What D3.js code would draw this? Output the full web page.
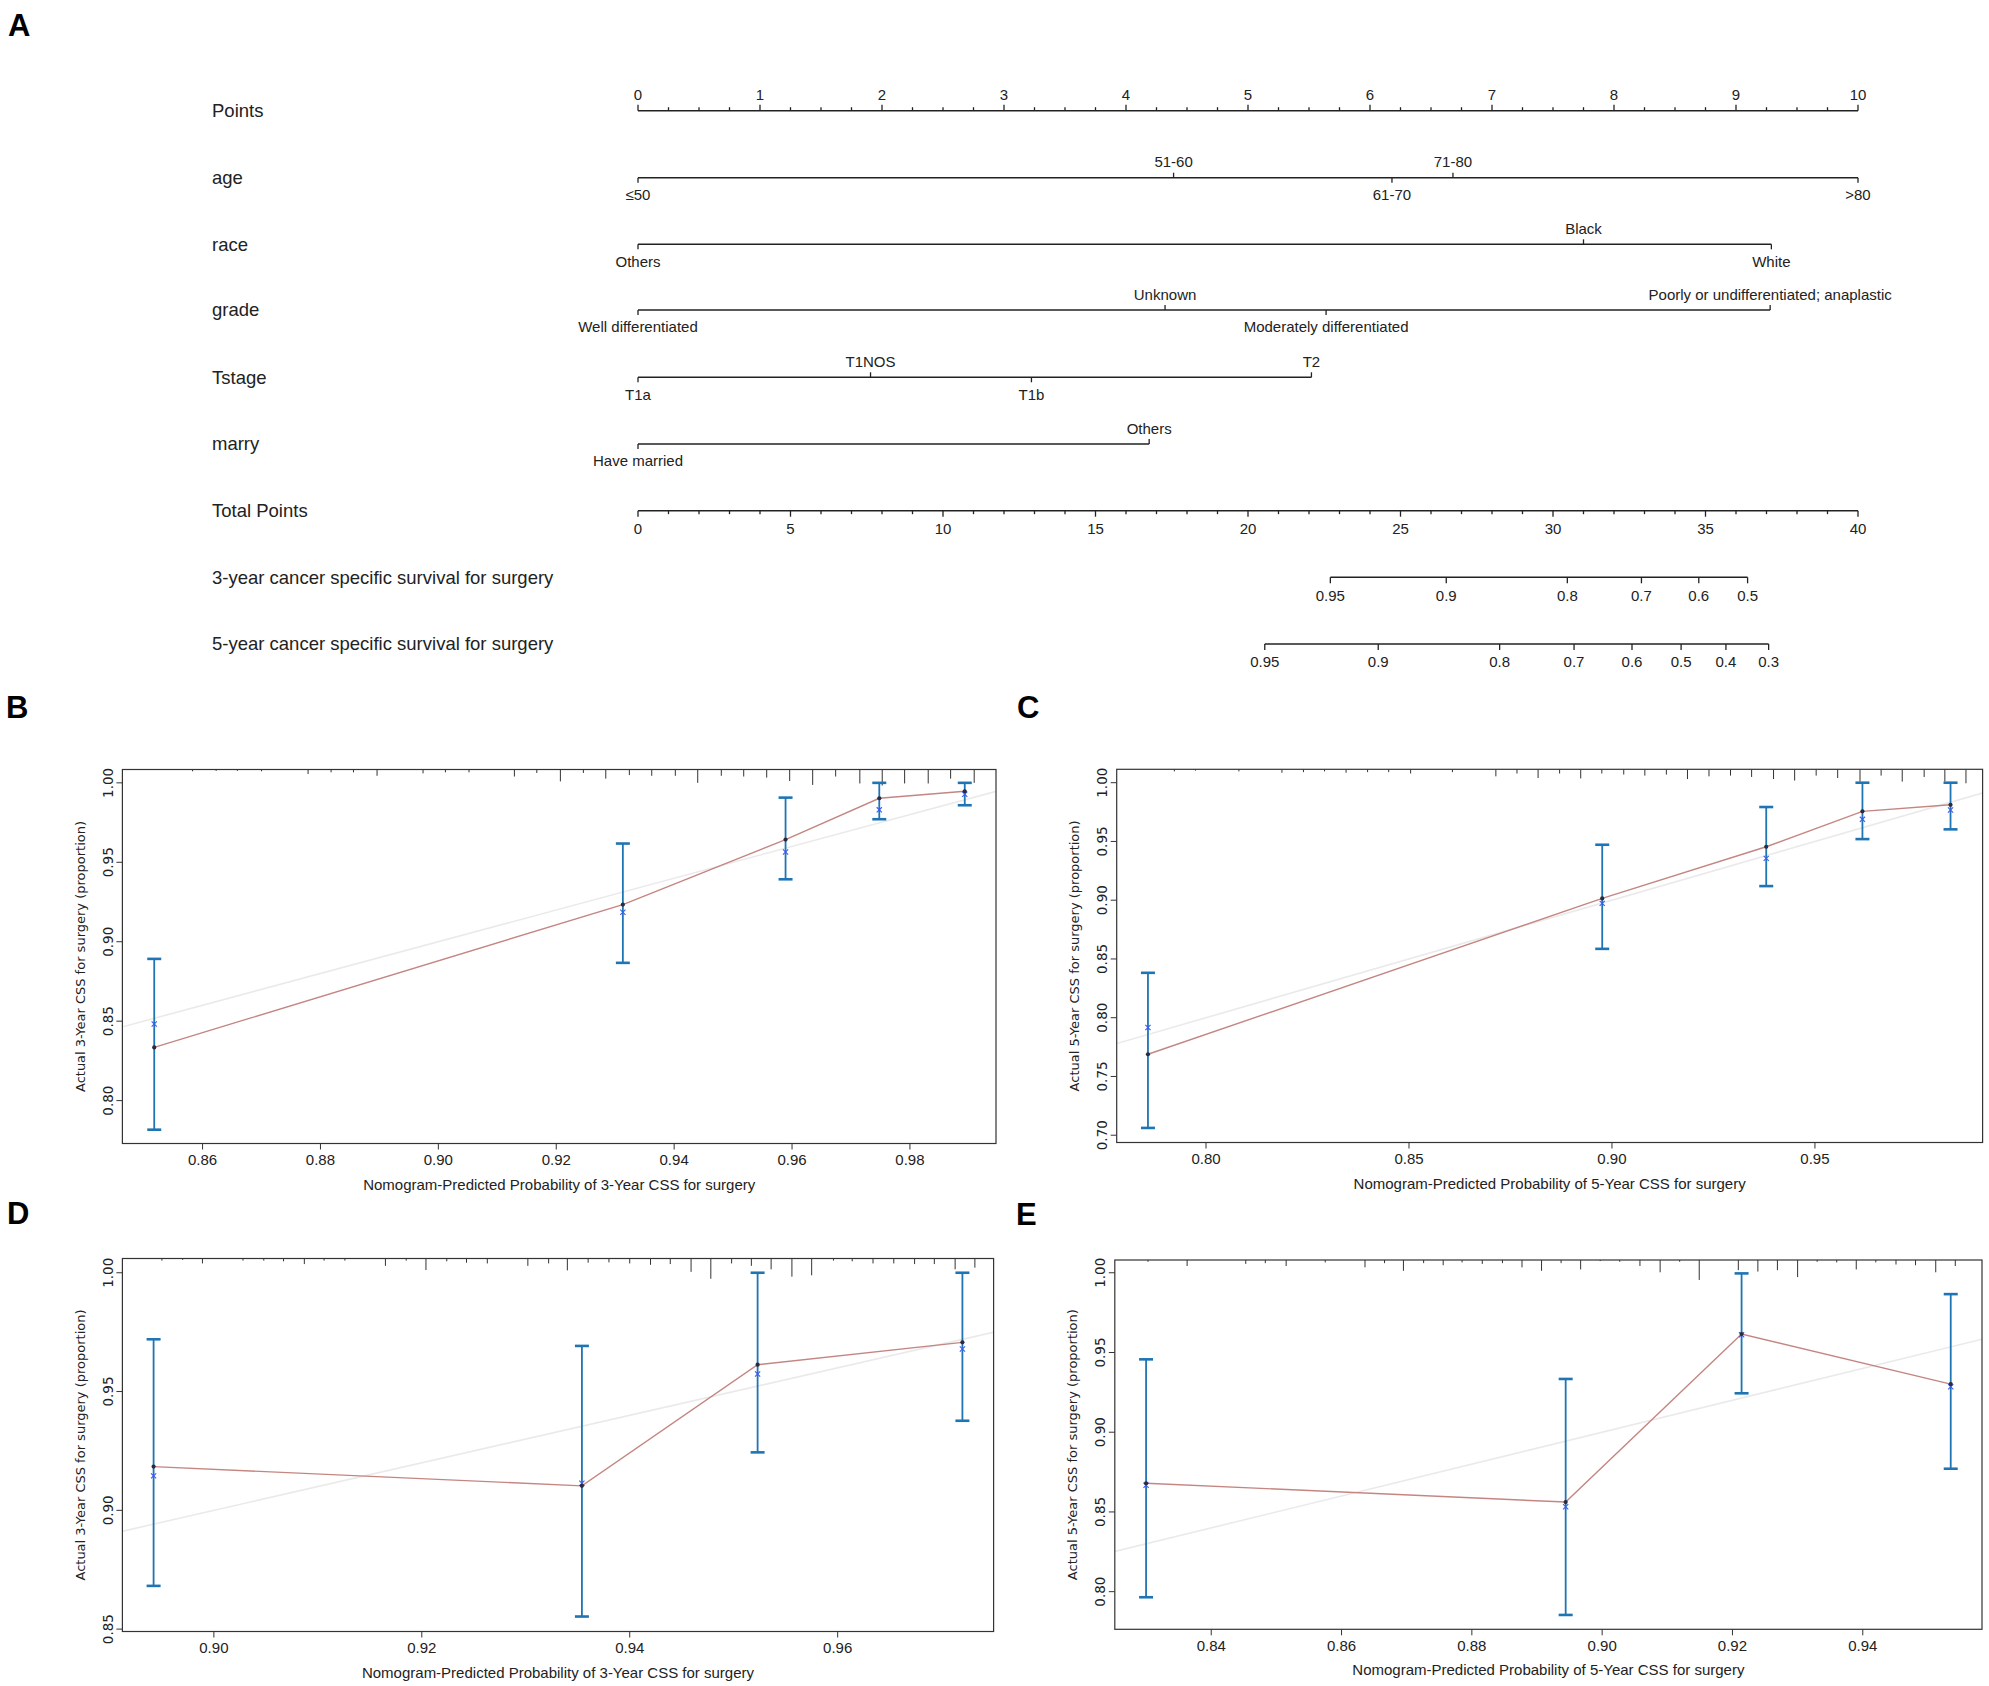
<!DOCTYPE html>
<html><head><meta charset="utf-8">
<script src="https://cdn.jsdelivr.net/npm/d3@7"></script>
<style>html,body{margin:0;padding:0;background:#fff;}svg{display:block;}</style>
</head><body>
<script>
// ---------------- DATA ----------------
// Nomogram (panel A)
const pointsTicks = d3.range(0, 11, 1);
const totalTicks = d3.range(0, 41, 5);
const rowNames = ["Points","age","race","grade","Tstage","marry","Total Points",
  "3-year cancer specific survival for surgery","5-year cancer specific survival for surgery"];
const ageLevels = ["≤50","51-60","61-70","71-80",">80"];
const agePts = [0, 4.39, 6.18, 6.68, 10];
const raceLevels = ["Others","Black","White"];
const racePts = [0, 7.75, 9.29];
const gradeLevels = ["Well differentiated","Unknown","Moderately differentiated","Poorly or undifferentiated; anaplastic"];
const gradePts = [0, 4.32, 5.64, 9.28];
const tLevels = ["T1a","T1NOS","T1b","T2"];
const tPts = [0, 1.906, 3.225, 5.52];
const marryLevels = ["Have married","Others"];
const marryPts = [0, 4.19];
const surv3Labels = ["0.95","0.9","0.8","0.7","0.6","0.5"];
const surv3Total = [22.70, 26.50, 30.47, 32.90, 34.78, 36.38];
const surv5Labels = ["0.95","0.9","0.8","0.7","0.6","0.5","0.4","0.3"];
const surv5Total = [20.55, 24.27, 28.25, 30.69, 32.59, 34.20, 35.67, 37.07];

// Calibration B (3-year, training)
const bPred = [0.8518, 0.9313, 0.9589, 0.9748, 0.9893];
const bObs  = [0.8335, 0.9234, 0.9643, 0.9903, 0.9947];
const bCorr = [0.8482, 0.9185, 0.9565, 0.9830, 0.9928];
const bLo   = [0.7817, 0.8867, 0.9393, 0.9771, 0.9859];
const bHi   = [0.8892, 0.9618, 0.9907, 1.0000, 1.0000];
const bXlim = [0.8464, 0.9946], bYlim = [0.773, 1.0084];
const bXticks = [0.86,0.88,0.90,0.92,0.94,0.96,0.98], bYticks = [0.80,0.85,0.90,0.95,1.00];
const bRugX = [0.8583,0.8623,0.8659,0.8700,0.8779,0.8818,0.8856,0.8896,0.8974,0.9012,0.9052,0.9129,0.9167,0.9207,0.9246,0.9284,0.9324,0.9362,0.9402,0.9440,0.9480,0.9518,0.9557,0.9596,0.9635,0.9674,0.9715,0.9753,0.9791,0.9831,0.9869,0.9909];
const bRugF = [1.7,1.3,1.3,1.7,4.3,2.7,2.7,6,3.7,2.7,2.7,6.7,3.3,11.3,3.3,8.7,5.3,6,6,12.7,6,6.7,7.7,11,14.7,6.7,13.3,15.3,13.3,13.3,8.7,12.7];

// Calibration C (5-year, training)
const cPred = [0.7857, 0.8976, 0.9380, 0.9617, 0.9834];
const cObs  = [0.7689, 0.9015, 0.9455, 0.9756, 0.9812];
const cCorr = [0.7917, 0.8973, 0.9356, 0.9688, 0.9767];
const cLo   = [0.7062, 0.8586, 0.9120, 0.9520, 0.9603];
const cHi   = [0.8382, 0.9472, 0.9793, 1.0000, 1.0000];
const cXlim = [0.778, 0.9913], cYlim = [0.6938, 1.0114];
const cXticks = [0.80,0.85,0.90,0.95], cYticks = [0.70,0.75,0.80,0.85,0.90,0.95,1.00];
const cRugX = [0.7922,0.7974,0.8081,0.8187,0.8240,0.8292,0.8345,0.8398,0.8450,0.8504,0.8607,0.8714,0.8766,0.8818,0.8871,0.8923,0.8975,0.9029,0.9081,0.9134,0.9186,0.9239,0.9292,0.9344,0.9398,0.9450,0.9503,0.9556,0.9611,0.9663,0.9715,0.9769,0.9820,0.9872];
const cRugF = [2,1.3,2,3.3,2.7,2,3.3,2.7,2.7,4,2.7,6.7,4,8.3,4,8.7,4,5,6,5,9.3,6.7,6,7.3,9.3,10.7,6,8.3,11.7,6,11.7,7.3,11.7,13.3];

// Calibration D (3-year, validation)
const dPred = [0.8942, 0.9354, 0.9523, 0.9720];
const dObs  = [0.9184, 0.9103, 0.9613, 0.9707];
const dCorr = [0.9145, 0.9114, 0.9574, 0.9679];
const dLo   = [0.8682, 0.8553, 0.9244, 0.9377];
const dHi   = [0.9720, 0.9692, 1.0000, 1.0000];
const dXlim = [0.8912, 0.975], dYlim = [0.849, 1.006];
const dXticks = [0.90,0.92,0.94,0.96], dYticks = [0.85,0.90,0.95,1.00];
const dRugX = [0.8950,0.8970,0.8989,0.9028,0.9048,0.9067,0.9087,0.9106,0.9126,0.9165,0.9185,0.9204,0.9224,0.9243,0.9263,0.9302,0.9322,0.9340,0.9360,0.9380,0.9400,0.9420,0.9439,0.9459,0.9478,0.9498,0.9517,0.9536,0.9556,0.9575,0.9596,0.9614,0.9634,0.9654,0.9674,0.9693,0.9713,0.9732];
const dRugF = [2,1.3,4.7,2,2,2.7,5.3,2,2,7,2,11,2.7,4,4.7,7,4.7,11.3,4,3.7,4.7,6,5.3,12.7,19.3,4.7,7,10.3,17.3,16,2,2.7,4.7,4.7,5.3,5.3,10.3,8.7];

// Calibration E (5-year, validation)
const ePred = [0.8300, 0.8944, 0.9214, 0.9535];
const eObs  = [0.8680, 0.8562, 0.9616, 0.9302];
const eCorr = [0.8667, 0.8533, 0.9611, 0.9285];
const eLo   = [0.7965, 0.7854, 0.9244, 0.8771];
const eHi   = [0.9457, 0.9334, 0.9996, 0.9866];
const eXlim = [0.8252, 0.9583], eYlim = [0.7764, 1.008];
const eXticks = [0.84,0.86,0.88,0.90,0.92,0.94], eYticks = [0.80,0.85,0.90,0.95,1.00];
const eRugX = [0.8303,0.8363,0.8453,0.8483,0.8515,0.8575,0.8636,0.8666,0.8695,0.8726,0.8756,0.8785,0.8816,0.8847,0.8877,0.8907,0.8937,0.8967,0.8997,0.9027,0.9058,0.9089,0.9119,0.9149,0.9209,0.9239,0.9269,0.9300,0.9330,0.9360,0.9390,0.9420,0.9451,0.9481,0.9512,0.9542];
const eRugF = [1.7,5.7,3.7,3,5.7,2.3,7,3,10.3,3,5,2.3,3.7,3,7,10.3,3,9,1,1.7,5.7,11.7,1.7,19,9.7,11,9.7,16.3,1.7,2.3,9,2.3,4.3,5,11.7,5.7];

// ---------------- DRAW ----------------
const W = 1989, H = 1686;
const SANS = "'Liberation Sans', Arial, Helvetica, sans-serif";
const VERD = "'DejaVu Sans', Verdana, sans-serif";
const INK = "#222";

const svg = d3.select("body").append("svg").attr("width", W).attr("height", H)
  .attr("viewBox", `0 0 ${W} ${H}`).style("background", "#fff");

function letter(t, x, y) {
  svg.append("text").attr("x", x).attr("y", y).text(t)
    .attr("font-family", SANS).attr("font-weight", "bold").attr("font-size", 31).attr("fill", "#000");
}
letter("A", 8, 36); letter("B", 6, 718); letter("C", 1017, 718); letter("D", 7, 1224); letter("E", 1016, 1225);

// ---- Nomogram ----
const nom = svg.append("g");
const xPts = d3.scaleLinear().domain([0, 10]).range([638, 1858]);
const xTot = d3.scaleLinear().domain([0, 40]).range([638, 1858]);
const rowY = [110.7, 177.7, 244.3, 310, 377.3, 444, 510.7, 577.3, 644];
const NOMFS = 15;

rowNames.forEach((n, i) => {
  nom.append("text").attr("x", 212).attr("y", rowY[i]).attr("dy", "0.35em").text(n)
    .attr("font-family", SANS).attr("font-size", 18.5).attr("fill", INK);
});

function hline(g, x0, x1, y) {
  g.append("line").attr("x1", x0).attr("x2", x1).attr("y1", y).attr("y2", y)
    .attr("stroke", INK).attr("stroke-width", 1.6);
}
function tick(g, x, y, len) {
  g.append("line").attr("x1", x).attr("x2", x).attr("y1", y).attr("y2", y + len)
    .attr("stroke", INK).attr("stroke-width", 1.3);
}
function lab(g, t, x, y, fs, anchor) {
  g.append("text").attr("x", x).attr("y", y).attr("dy", "0.35em").text(t)
    .attr("text-anchor", anchor || "middle")
    .attr("font-family", SANS).attr("font-size", fs || NOMFS).attr("fill", INK);
}

// Points axis (ticks upward, labels above)
{
  const y = rowY[0];
  hline(nom, xPts(0), xPts(10), y);
  d3.range(0, 10.001, 0.25).forEach(v => {
    const major = Math.abs(v - Math.round(v)) < 1e-6;
    tick(nom, xPts(v), y, major ? -6 : -3.5);
  });
  pointsTicks.forEach(v => lab(nom, String(v), xPts(v), y - 15.5));
}
// Categorical rows
function catRow(levels, pts, y) {
  hline(nom, xPts(d3.min(pts)), xPts(d3.max(pts)), y);
  const order = d3.range(levels.length).sort((a, b) => pts[a] - pts[b]);
  order.forEach((idx, k) => {
    const below = k % 2 === 0;
    tick(nom, xPts(pts[idx]), y, below ? 5 : -5);
    lab(nom, levels[idx], xPts(pts[idx]), below ? y + 17 : y - 15.5);
  });
}
catRow(ageLevels, agePts, rowY[1]);
catRow(raceLevels, racePts, rowY[2]);
catRow(gradeLevels, gradePts, rowY[3]);
catRow(tLevels, tPts, rowY[4]);
catRow(marryLevels, marryPts, rowY[5]);
// Total points axis (ticks downward, labels below)
{
  const y = rowY[6];
  hline(nom, xTot(0), xTot(40), y);
  d3.range(0, 41, 1).forEach(v => tick(nom, xTot(v), y, v % 5 === 0 ? 6 : 3.5));
  totalTicks.forEach(v => lab(nom, String(v), xTot(v), y + 18));
}
// Survival axes
function survRow(labels, tot, y) {
  hline(nom, xTot(d3.min(tot)), xTot(d3.max(tot)), y);
  tot.forEach((t, i) => { tick(nom, xTot(t), y, 6); lab(nom, labels[i], xTot(t), y + 18); });
}
survRow(surv3Labels, surv3Total, rowY[7]);
survRow(surv5Labels, surv5Total, rowY[8]);

// ---- Calibration panels ----
let clipId = 0;
function calPanel(o) {
  const g = svg.append("g");
  const x = d3.scaleLinear().domain(o.xlim).range([o.box[0], o.box[2]]);
  const y = d3.scaleLinear().domain(o.ylim).range([o.box[3], o.box[1]]);
  const id = "clip" + (clipId++);
  svg.append("clipPath").attr("id", id).append("rect")
    .attr("x", o.box[0]).attr("y", o.box[1]).attr("width", o.box[2] - o.box[0]).attr("height", o.box[3] - o.box[1]);
  const inner = g.append("g").attr("clip-path", `url(#${id})`);

  // ideal diagonal
  const lo = Math.min(o.xlim[0], o.ylim[0]) - 0.1, hi = Math.max(o.xlim[1], o.ylim[1]) + 0.1;
  inner.append("line").attr("x1", x(lo)).attr("y1", y(lo)).attr("x2", x(hi)).attr("y2", y(hi))
    .attr("stroke", "#eaeaea").attr("stroke-width", 1.6);

  // rug / risk distribution from top
  const rugLen = d3.scaleLinear().domain([0, 20]).range([0, 21]);
  inner.selectAll(".rug").data(o.rugX).enter().append("line")
    .attr("x1", d => x(d)).attr("x2", d => x(d))
    .attr("y1", o.box[1]).attr("y2", (d, i) => o.box[1] + rugLen(o.rugF[i]))
    .attr("stroke", "#333").attr("stroke-width", 1);

  // observed line
  const pts = o.pred.map((p, i) => [p, o.obs[i]]);
  inner.append("path").attr("d", d3.line().x(d => x(d[0])).y(d => y(d[1]))(pts))
    .attr("fill", "none").attr("stroke", "#c48682").attr("stroke-width", 1.4);

  // error bars
  const ebc = "#1f74b4";
  o.pred.forEach((p, i) => {
    const xx = x(p);
    g.append("line").attr("x1", xx).attr("x2", xx).attr("y1", y(o.lo[i])).attr("y2", y(o.hi[i]))
      .attr("stroke", ebc).attr("stroke-width", 1.8);
    [o.lo[i], o.hi[i]].forEach(v => {
      g.append("line").attr("x1", xx - 7).attr("x2", xx + 7).attr("y1", y(v)).attr("y2", y(v))
        .attr("stroke", ebc).attr("stroke-width", 2.6);
    });
  });
  // bias-corrected x markers
  o.pred.forEach((p, i) => {
    const xx = x(p), yy = y(o.corr[i]), s = 2.6;
    g.append("path").attr("d", `M${xx - s},${yy - s}L${xx + s},${yy + s}M${xx - s},${yy + s}L${xx + s},${yy - s}`)
      .attr("stroke", "#3a5cf0").attr("stroke-width", 1.1).attr("fill", "none");
  });
  // observed dots
  g.selectAll(".dot").data(pts).enter().append("circle")
    .attr("cx", d => x(d[0])).attr("cy", d => y(d[1])).attr("r", 2.1).attr("fill", "#2b2b3b");

  // box
  g.append("rect").attr("x", o.box[0]).attr("y", o.box[1])
    .attr("width", o.box[2] - o.box[0]).attr("height", o.box[3] - o.box[1])
    .attr("fill", "none").attr("stroke", "#333").attr("stroke-width", 1.2);

  // x axis ticks
  const fmt = d3.format(".2f");
  o.xticks.forEach(v => {
    g.append("line").attr("x1", x(v)).attr("x2", x(v)).attr("y1", o.box[3]).attr("y2", o.box[3] + 6)
      .attr("stroke", "#333").attr("stroke-width", 1);
    g.append("text").attr("x", x(v)).attr("y", o.box[3] + 21.5).text(fmt(v))
      .attr("text-anchor", "middle").attr("font-family", SANS).attr("font-size", 15).attr("fill", INK);
  });
  g.append("text").attr("x", (o.box[0] + o.box[2]) / 2).attr("y", o.box[3] + 46).text(o.xlab)
    .attr("text-anchor", "middle").attr("font-family", SANS).attr("font-size", 15).attr("fill", INK);

  // y axis ticks (rotated labels)
  o.yticks.forEach(v => {
    g.append("line").attr("x1", o.box[0]).attr("x2", o.box[0] - 6).attr("y1", y(v)).attr("y2", y(v))
      .attr("stroke", "#333").attr("stroke-width", 1);
    g.append("text").attr("transform", `translate(${o.box[0] - 9.5},${y(v)}) rotate(-90)`).text(fmt(v))
      .attr("text-anchor", "middle").attr("font-family", VERD).attr("font-size", 13.5).attr("fill", INK);
  });
  g.append("text").attr("transform", `translate(${o.box[0] - 37.5},${(o.box[1] + o.box[3]) / 2}) rotate(-90)`)
    .text(o.ylab).attr("text-anchor", "middle").attr("font-family", VERD).attr("font-size", 13).attr("fill", INK);
}

calPanel({ box: [122.4, 769.5, 996, 1143.5], xlim: bXlim, ylim: bYlim, xticks: bXticks, yticks: bYticks,
  pred: bPred, obs: bObs, corr: bCorr, lo: bLo, hi: bHi, rugX: bRugX, rugF: bRugF,
  xlab: "Nomogram-Predicted Probability of 3-Year CSS for surgery", ylab: "Actual 3-Year CSS for surgery (proportion)" });
calPanel({ box: [1116.7, 769.3, 1982.6, 1142.5], xlim: cXlim, ylim: cYlim, xticks: cXticks, yticks: cYticks,
  pred: cPred, obs: cObs, corr: cCorr, lo: cLo, hi: cHi, rugX: cRugX, rugF: cRugF,
  xlab: "Nomogram-Predicted Probability of 5-Year CSS for surgery", ylab: "Actual 5-Year CSS for surgery (proportion)" });
calPanel({ box: [122.4, 1258.5, 993.6, 1631.5], xlim: dXlim, ylim: dYlim, xticks: dXticks, yticks: dYticks,
  pred: dPred, obs: dObs, corr: dCorr, lo: dLo, hi: dHi, rugX: dRugX, rugF: dRugF,
  xlab: "Nomogram-Predicted Probability of 3-Year CSS for surgery", ylab: "Actual 3-Year CSS for surgery (proportion)" });
calPanel({ box: [1114.8, 1260, 1982, 1629.3], xlim: eXlim, ylim: eYlim, xticks: eXticks, yticks: eYticks,
  pred: ePred, obs: eObs, corr: eCorr, lo: eLo, hi: eHi, rugX: eRugX, rugF: eRugF,
  xlab: "Nomogram-Predicted Probability of 5-Year CSS for surgery", ylab: "Actual 5-Year CSS for surgery (proportion)" });
</script>
</body></html>
